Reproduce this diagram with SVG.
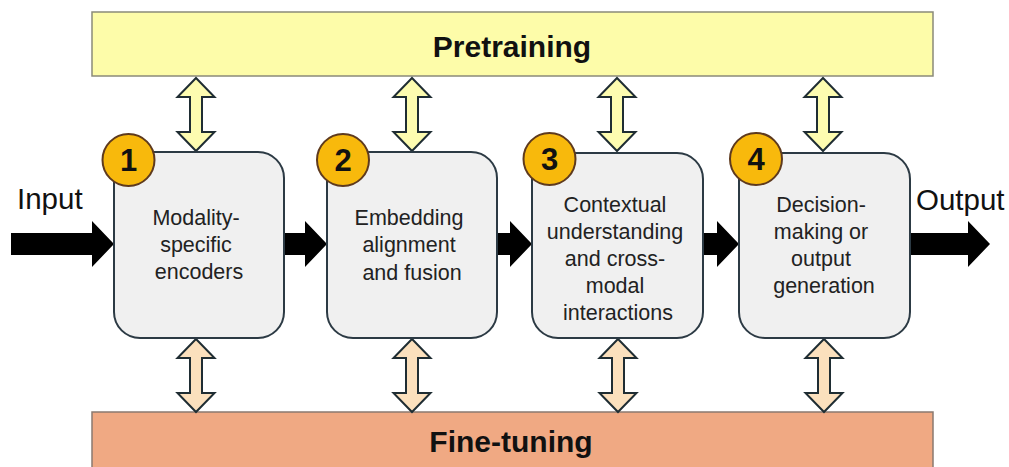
<svg xmlns="http://www.w3.org/2000/svg" width="1009" height="467" viewBox="0 0 1009 467">
<style>
  .bar-pre { fill: #fdfca9; stroke: #8a8a7a; stroke-width: 1.5; }
  .bar-fine { fill: #f0a983; stroke: #8a7a70; stroke-width: 1.5; }
  .bar-label { font-family: "Liberation Sans", Arial, sans-serif; font-weight: bold; font-size: 30px; fill: #111; text-anchor: middle; }
  .box { fill: #f0f0f0; stroke: #2c3a44; stroke-width: 2; }
  .box-text { font-family: "Liberation Sans", Arial, sans-serif; font-size: 21.5px; fill: #222; text-anchor: middle; }
  .badge { fill: #f8b90c; stroke: #5e3a1e; stroke-width: 2; }
  .badge-text { font-family: "Liberation Sans", Arial, sans-serif; font-weight: bold; font-size: 31px; fill: #111; text-anchor: middle; }
  .io-text { font-family: "Liberation Sans", Arial, sans-serif; font-size: 29.5px; fill: #111; }
  .flow { fill: #000; }
  .up-arrow { fill: #fdfcb0; stroke: #1f2d33; stroke-width: 2; stroke-linejoin: miter; }
  .down-arrow { fill: #fbe0bd; stroke: #1f2d33; stroke-width: 2; stroke-linejoin: miter; }
</style>

<g id="pretraining">
  <rect class="bar-pre" x="92" y="12" width="841" height="64"/>
  <text class="bar-label" x="512" y="57">Pretraining</text>
</g>

<g id="finetuning">
  <rect class="bar-fine" x="92" y="412" width="841" height="60"/>
  <text class="bar-label" x="511" y="452">Fine-tuning</text>
</g>

<g id="connectors">
  <!-- main flow arrows -->
  <polygon class="flow" points="11,233 92,233 92,221 114,244 92,267 92,255 11,255"/>
  <polygon class="flow" points="284,233 305,233 305,221 327,244 305,267 305,255 284,255"/>
  <polygon class="flow" points="497,233 510,233 510,221 532,244 510,267 510,255 497,255"/>
  <polygon class="flow" points="703,233 717,233 717,221 739,244 717,267 717,255 703,255"/>
  <polygon class="flow" points="910,233 968,233 968,221 990,244 968,267 968,255 910,255"/>
  <!-- pretraining double arrows -->
  <polygon class="up-arrow" points="196,78 214.5,97 202,97 202,132 214.5,132 196,151 177.5,132 190,132 190,97 177.5,97"/>
  <polygon class="up-arrow" points="412,78 430.5,97 418,97 418,132 430.5,132 412,151 393.5,132 406,132 406,97 393.5,97"/>
  <polygon class="up-arrow" points="617,78 635.5,97 623,97 623,132 635.5,132 617,151 598.5,132 611,132 611,97 598.5,97"/>
  <polygon class="up-arrow" points="823,78 841.5,97 829,97 829,132 841.5,132 823,151 804.5,132 817,132 817,97 804.5,97"/>
  <!-- fine-tuning double arrows -->
  <polygon class="down-arrow" points="196,339 214.5,358 202,358 202,393 214.5,393 196,412 177.5,393 190,393 190,358 177.5,358"/>
  <polygon class="down-arrow" points="412,339 430.5,358 418,358 418,393 430.5,393 412,412 393.5,393 406,393 406,358 393.5,358"/>
  <polygon class="down-arrow" points="618,339 636.5,358 624,358 624,393 636.5,393 618,412 599.5,393 612,393 612,358 599.5,358"/>
  <polygon class="down-arrow" points="824,339 842.5,358 830,358 830,393 842.5,393 824,412 805.5,393 818,393 818,358 805.5,358"/>
</g>

<g id="input-label">
  <text class="io-text" x="17" y="209">Input</text>
</g>
<g id="output-label">
  <text class="io-text" x="916" y="210">Output</text>
</g>

<g id="stage1">
  <rect class="box" x="114" y="152" width="170" height="186" rx="26" ry="26"/>
  <text class="box-text">
    <tspan x="199" y="225">Modality-</tspan>
    <tspan x="199" y="252">specific</tspan>
    <tspan x="199" y="279">encoders</tspan>
  </text>
  <circle class="badge" cx="128.5" cy="160" r="26"/>
  <text class="badge-text" x="128.5" y="171">1</text>
</g>

<g id="stage2">
  <rect class="box" x="327" y="152" width="170" height="186" rx="26" ry="26"/>
  <text class="box-text">
    <tspan x="412" y="225">Embedding</tspan>
    <tspan x="412" y="252">alignment</tspan>
    <tspan x="412" y="280">and fusion</tspan>
  </text>
  <circle class="badge" cx="343" cy="160" r="26"/>
  <text class="badge-text" x="343" y="171">2</text>
</g>

<g id="stage3">
  <rect class="box" x="532" y="153" width="171" height="185" rx="26" ry="26"/>
  <text class="box-text">
    <tspan x="618" y="212">Contextual</tspan>
    <tspan x="618" y="239">understanding</tspan>
    <tspan x="618" y="266">and cross-</tspan>
    <tspan x="618" y="293">modal</tspan>
    <tspan x="618" y="320">interactions</tspan>
  </text>
  <circle class="badge" cx="549.5" cy="159" r="26"/>
  <text class="badge-text" x="549.5" y="170">3</text>
</g>

<g id="stage4">
  <rect class="box" x="739" y="153" width="171" height="185" rx="26" ry="26"/>
  <text class="box-text">
    <tspan x="824" y="212">Decision-</tspan>
    <tspan x="824" y="239">making or</tspan>
    <tspan x="824" y="266">output</tspan>
    <tspan x="824" y="293">generation</tspan>
  </text>
  <circle class="badge" cx="756" cy="159" r="26"/>
  <text class="badge-text" x="756" y="170">4</text>
</g>
</svg>
